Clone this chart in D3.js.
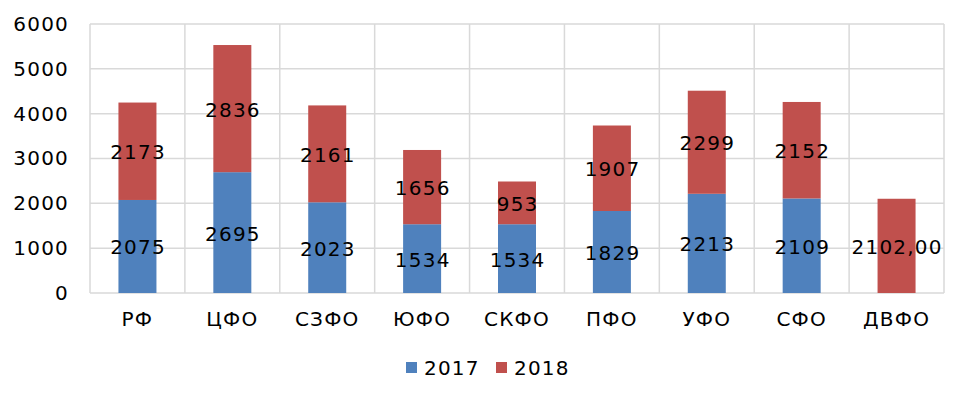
<!DOCTYPE html>
<html><head><meta charset="utf-8">
<script src="https://cdn.jsdelivr.net/npm/d3@7/dist/d3.min.js"></script>
<style>body{margin:0;background:#fff}svg{display:block}text{font-family:"DejaVu Sans",Verdana,sans-serif;fill:#000;letter-spacing:1.2px}</style>
</head><body><svg id="c" width="967" height="400"></svg>
<script>
const categories = ["РФ","ЦФО","СЗФО","ЮФО","СКФО","ПФО","УФО","СФО","ДВФО"];
const values2017 = [2075,2695,2023,1534,1534,1829,2213,2109,0];
const values2018 = [2173,2836,2161,1656,953,1907,2299,2152,2102];
const labels2017 = ["2075","2695","2023","1534","1534","1829","2213","2109",""];
const labels2018 = ["2173","2836","2161","1656","953","1907","2299","2152","2102,00"];
const seriesNames = ["2017","2018"];
const colors = ["#4F81BD","#C0504D"];
const yTicks = [0,1000,2000,3000,4000,5000,6000];

const svg = d3.select("#c");
const m = {l:90, r:23, t:24, b:107};
const W = 967, H = 400;
const x = d3.scaleBand().domain(categories).range([m.l, W-m.r]).paddingInner(0).paddingOuter(0);
const y = d3.scaleLinear().domain([0,6000]).range([H-m.b, m.t]);
const grid = "#d9d9d9";
const FONT = '"DejaVu Sans",Verdana,sans-serif';

// horizontal gridlines
svg.append("g").selectAll("line").data(yTicks).join("line")
  .attr("x1", m.l).attr("x2", W-m.r).attr("y1", d=>y(d)).attr("y2", d=>y(d))
  .attr("stroke", grid).attr("stroke-width", 1.5);
// vertical lines at category boundaries
const bounds = categories.map(c=>x(c)).concat([x(categories[categories.length-1])+x.bandwidth()]);
svg.append("g").selectAll("line").data(bounds).join("line")
  .attr("x1", d=>d).attr("x2", d=>d).attr("y1", y(6000)).attr("y2", y(0))
  .attr("stroke", grid).attr("stroke-width", 1.5);

// y tick labels
const yAxis = d3.axisLeft(y).tickValues(yTicks).tickFormat(d3.format("d")).tickSize(0).tickPadding(21);
const ya = svg.append("g").attr("transform", `translate(${m.l},0)`).call(yAxis);
ya.select(".domain").remove();
ya.selectAll("text").style("font-size","20px").style("font-family",FONT).attr("fill","#000");

// x labels
const xAxis = d3.axisBottom(x).tickSize(0).tickPadding(19);
const xa = svg.append("g").attr("transform", `translate(0,${y(0)})`).call(xAxis);
xa.select(".domain").remove();
xa.selectAll("text").style("font-size","20px").style("font-family",FONT).attr("fill","#000");

const bw = 38;
const stackData = categories.map((c,i)=>({c, s2017:values2017[i], s2018:values2018[i], l2017:labels2017[i], l2018:labels2018[i]}));
const stack = d3.stack().keys(["s2017","s2018"])(stackData);
const labelKeys = ["l2017","l2018"];

stack.forEach((layer, li)=>{
  svg.append("g").selectAll("rect").data(layer).join("rect")
    .attr("x", d=>x(d.data.c)+x.bandwidth()/2-bw/2)
    .attr("width", bw)
    .attr("y", d=>y(d[1]))
    .attr("height", d=>y(d[0])-y(d[1]))
    .attr("fill", colors[li]);
});
stack.forEach((layer, li)=>{
  svg.append("g").selectAll("text").data(layer.filter(d=>d.data[labelKeys[li]]!=="")).join("text")
    .attr("x", d=>x(d.data.c)+x.bandwidth()/2+0.6)
    .attr("y", d=>y((d[0]+d[1])/2)+1)
    .attr("text-anchor","middle").attr("dominant-baseline","central")
    .style("font-size","20px")
    .text(d=>d.data[labelKeys[li]]);
});

// legend
const leg = svg.append("g");
const legX = [406, 496];
seriesNames.forEach((n,i)=>{
  leg.append("rect").attr("x", legX[i]).attr("y", 362).attr("width", 11).attr("height", 11).attr("fill", colors[i]);
  leg.append("text").attr("x", legX[i]+18).attr("y", 368).attr("dominant-baseline","central").style("font-size","20px").text(n);
});
</script></body></html>
